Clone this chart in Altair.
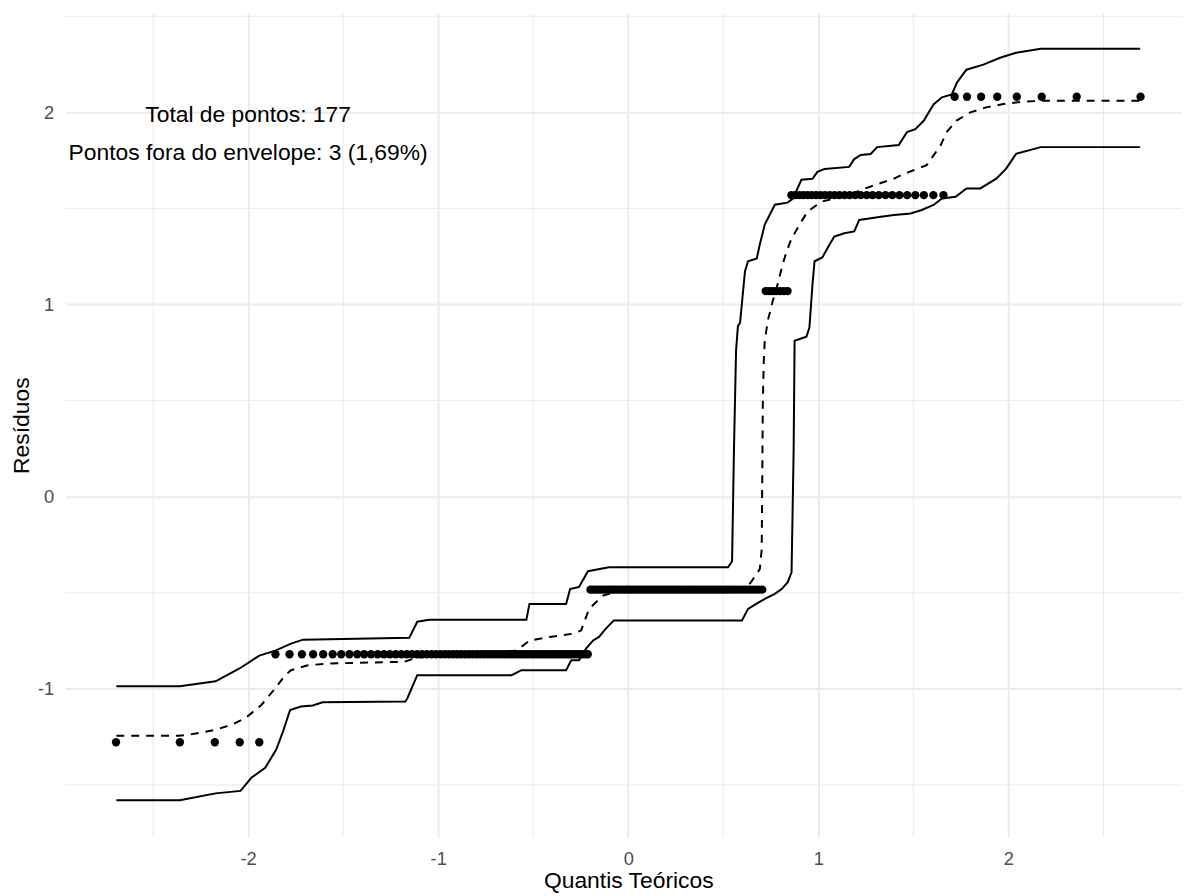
import altair as alt
import pandas as pd

# ---------------- data ----------------
# residual levels (sorted residuals take only these values)
res_levels = [-1.278, -0.820, -0.484, 1.070, 1.569, 2.081]

# theoretical quantiles of the points on each level
q_A = [-2.695, -2.359, -2.175, -2.044, -1.941]
q_B = [-1.856, -1.782, -1.717, -1.658, -1.605, -1.555, -1.510, -1.467, -1.426,
       -1.389, -1.353, -1.318, -1.285, -1.254, -1.223, -1.194, -1.165, -1.138,
       -1.111, -1.085, -1.060, -1.035, -1.011, -0.988, -0.965, -0.943, -0.921,
       -0.900, -0.879, -0.858, -0.838, -0.818, -0.798, -0.779, -0.760, -0.741,
       -0.723, -0.705, -0.687, -0.669, -0.651, -0.634, -0.617, -0.600, -0.583,
       -0.566, -0.550, -0.533, -0.517, -0.501, -0.485, -0.469, -0.454, -0.438,
       -0.422, -0.407, -0.391, -0.376, -0.361, -0.346, -0.331, -0.316, -0.301,
       -0.286, -0.271, -0.257, -0.242, -0.228, -0.213]
q_C = [-0.199, -0.185, -0.170, -0.156, -0.142, -0.128, -0.113, -0.099, -0.085,
       -0.071, -0.057, -0.042, -0.028, -0.014, 0.000, 0.014, 0.028, 0.042,
       0.057, 0.071, 0.085, 0.099, 0.113, 0.128, 0.142, 0.156, 0.170, 0.185,
       0.199, 0.213, 0.228, 0.242, 0.257, 0.271, 0.286, 0.301, 0.316, 0.331,
       0.346, 0.361, 0.376, 0.391, 0.407, 0.422, 0.438, 0.454, 0.469, 0.485,
       0.501, 0.517, 0.533, 0.550, 0.566, 0.583, 0.600, 0.617, 0.634, 0.651,
       0.669, 0.687, 0.705]
q_D = [0.723, 0.741, 0.760, 0.779, 0.798, 0.818, 0.838]
q_E = [0.858, 0.879, 0.900, 0.921, 0.943, 0.965, 0.988, 1.011, 1.035, 1.060,
       1.085, 1.111, 1.138, 1.165, 1.194, 1.223, 1.254, 1.285, 1.318, 1.353,
       1.389, 1.426, 1.467, 1.510, 1.555, 1.605, 1.658]
q_F = [1.717, 1.782, 1.856, 1.941, 2.044, 2.175, 2.359, 2.695]

# envelope: upper limit (solid)
upper_x = [-2.693, -2.359, -2.171, -2.045, -1.941, -1.857, -1.774, -1.711, -1.152,
           -1.110, -1.048, -0.536, -0.520, -0.327, -0.306, -0.259, -0.212, -0.102,
           0.525, 0.546, 0.556, 0.567, 0.577, 0.588, 0.614, 0.630, 0.676, 0.692,
           0.718, 0.771, 0.838, 0.865, 0.911, 0.969, 0.995, 1.032, 1.162, 1.189,
           1.223, 1.275, 1.309, 1.423, 1.466, 1.510, 1.554, 1.606, 1.650, 1.702,
           1.729, 1.779, 1.868, 1.956, 2.040, 2.170, 2.693]
upper_y = [-0.987, -0.987, -0.961, -0.894, -0.827, -0.801, -0.765, -0.744, -0.734,
           -0.651, -0.641, -0.641, -0.558, -0.558, -0.481, -0.470, -0.388, -0.367,
           -0.367, -0.336, 0.243, 0.760, 0.889, 0.904, 1.173, 1.225, 1.240, 1.313,
           1.416, 1.519, 1.530, 1.550, 1.649, 1.654, 1.690, 1.705, 1.716, 1.757,
           1.778, 1.783, 1.819, 1.830, 1.897, 1.912, 1.956, 2.041, 2.078, 2.093,
           2.155, 2.222, 2.248, 2.284, 2.310, 2.331, 2.331]

# envelope: middle line (dashed)
mid_x = [-2.693, -2.364, -2.312, -2.171, -2.087, -2.014, -1.930, -1.857, -1.805,
         -1.774, -1.685, -1.565, -1.178, -1.110, -0.588, -0.520, -0.415, -0.290,
         -0.248, -0.206, -0.133, -0.065, 0.614, 0.645, 0.692, 0.702, 0.708, 0.713,
         0.718, 0.734, 0.760, 0.786, 0.812, 0.833, 0.859, 0.911, 0.943, 1.016,
         1.084, 1.162, 1.241, 1.319, 1.398, 1.434, 1.502, 1.570, 1.606, 1.643,
         1.675, 1.727, 1.800, 1.883, 1.972, 2.077, 2.171, 2.693]
mid_y = [-1.244, -1.244, -1.239, -1.213, -1.187, -1.152, -1.084, -0.997, -0.929,
         -0.903, -0.877, -0.868, -0.859, -0.837, -0.801, -0.749, -0.730, -0.713,
         -0.696, -0.584, -0.515, -0.496, -0.475, -0.446, -0.377, -0.274, 0.501,
         0.708, 0.811, 0.915, 1.018, 1.106, 1.209, 1.276, 1.344, 1.432, 1.483,
         1.535, 1.552, 1.571, 1.602, 1.629, 1.655, 1.673, 1.699, 1.725, 1.776,
         1.828, 1.897, 1.957, 2.000, 2.026, 2.043, 2.055, 2.060, 2.060]

# envelope: lower limit (solid)
lower_x = [-2.693, -2.359, -2.171, -2.040, -1.983, -1.910, -1.852, -1.816, -1.779,
           -1.722, -1.660, -1.608, -1.173, -1.162, -1.110, -0.614, -0.562, -0.327,
           -0.300, -0.259, -0.222, -0.185, -0.154, -0.118, -0.076, 0.598, 0.630,
           0.682, 0.718, 0.771, 0.807, 0.838, 0.859, 0.870, 0.875, 0.937, 0.953,
           0.969, 0.980, 1.021, 1.058, 1.084, 1.136, 1.189, 1.215, 1.276, 1.329,
           1.398, 1.485, 1.544, 1.606, 1.650, 1.722, 1.779, 1.852, 1.936, 1.988,
           2.040, 2.170, 2.693]
lower_y = [-1.580, -1.580, -1.544, -1.531, -1.463, -1.411, -1.316, -1.221, -1.110,
           -1.092, -1.087, -1.070, -1.066, -1.049, -0.929, -0.929, -0.903, -0.903,
           -0.851, -0.851, -0.791, -0.748, -0.730, -0.687, -0.644, -0.644, -0.584,
           -0.553, -0.532, -0.506, -0.481, -0.446, -0.394, 0.243, 0.811, 0.832,
           0.880, 1.104, 1.225, 1.245, 1.311, 1.354, 1.371, 1.380, 1.440, 1.449,
           1.457, 1.466, 1.474, 1.492, 1.518, 1.552, 1.561, 1.604, 1.604, 1.655,
           1.707, 1.784, 1.819, 1.819]

# annotation texts
note_labels = ["Total de pontos: 177", "Pontos fora do envelope: 3 (1,69%)"]
note_x = [-2.0, -2.0]
note_y = [1.985, 1.787]

# tick / grid values
major_x = [-2, -1, 0, 1, 2]
major_y = [-1, 0, 1, 2]
minor_x = [-2.5, -1.5, -0.5, 0.5, 1.5, 2.5]
minor_y = [-1.5, -0.5, 0.5, 1.5, 2.5]

# ---------------- tables ----------------
groups = [q_A, q_B, q_C, q_D, q_E, q_F]
pts = pd.DataFrame([{"x": q, "y": lvl} for lvl, qs in zip(res_levels, groups) for q in qs])

def line_df(xs, ys, name):
    return pd.DataFrame({"x": xs, "y": ys, "band": name, "idx": list(range(len(xs)))})

env_solid = pd.concat([line_df(upper_x, upper_y, "upper"), line_df(lower_x, lower_y, "lower")])
env_mid = line_df(mid_x, mid_y, "mid")
notes = pd.DataFrame({"x": note_x, "y": note_y, "label": note_labels})
mx = pd.DataFrame({"x": minor_x})
my = pd.DataFrame({"y": minor_y})

FONT = "Liberation Sans"
GRID = "#EBEBEB"

xscale = alt.Scale(domain=[-2.960, 2.913], nice=False, zero=False)
yscale = alt.Scale(domain=[-1.773, 2.517], nice=False, zero=False)

xaxis = alt.Axis(values=major_x, title="Quantis Teóricos", grid=True, gridColor=GRID,
                 gridWidth=2, domain=False, ticks=False, tickSize=0,
                 labelExpr="toString(datum.value)", labelFont=FONT, labelFontSize=18.4,
                 labelColor="#4D4D4D", labelBaseline="alphabetic", labelPadding=27,
                 titleFont=FONT, titleFontSize=23, titleFontWeight="normal",
                 titleColor="#000000", titleBaseline="alphabetic", titleY=50,
                 titleX=566.5, titleAlign="center")
yaxis = alt.Axis(values=major_y, title="Resíduos", grid=True, gridColor=GRID,
                 gridWidth=2, domain=False, ticks=False, tickSize=0,
                 labelExpr="toString(datum.value)", labelFont=FONT, labelFontSize=18.4,
                 labelColor="#4D4D4D", labelPadding=12, labelAlign="right",
                 titleFont=FONT, titleFontSize=23, titleFontWeight="normal",
                 titleColor="#000000", titleAngle=-90, titleBaseline="alphabetic",
                 titleX=-37.5, titleY=415, titleAlign="center")

X = alt.X("x:Q", scale=xscale, axis=xaxis)
Y = alt.Y("y:Q", scale=yscale, axis=yaxis)

minor_vx = alt.Chart(mx).mark_rule(color=GRID, strokeWidth=1).encode(x=X)
minor_hy = alt.Chart(my).mark_rule(color=GRID, strokeWidth=1).encode(y=Y)

solid = alt.Chart(env_solid).mark_line(color="black", strokeWidth=2).encode(
    x=X, y=Y, detail="band:N", order="idx:Q")
dashed = alt.Chart(env_mid).mark_line(color="black", strokeWidth=2, strokeDash=[8, 7]).encode(
    x=X, y=Y, order="idx:Q")
points = alt.Chart(pts).mark_circle(color="black", size=70, opacity=1).encode(x=X, y=Y)
texts = alt.Chart(notes).mark_text(font=FONT, fontSize=23, color="#000000",
                                   align="center", baseline="middle").encode(
    x=X, y=Y, text="label:N")

chart = alt.layer(minor_vx, minor_hy, solid, dashed, points, texts).properties(
    width=1124, height=830,
    autosize=alt.AutoSizeParams(type="none"),
    padding={"left": 58, "top": 2, "right": 0, "bottom": 56},
    background="white",
).configure_view(stroke=None)

chart.save("out.html", embed_options={"renderer": "svg", "actions": False})
